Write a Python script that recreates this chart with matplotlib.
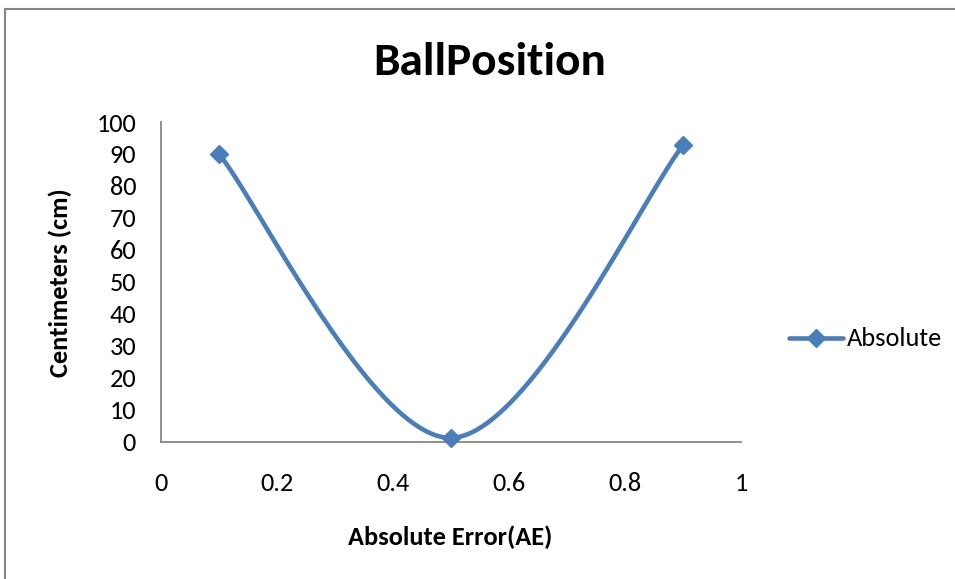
import numpy as np
import matplotlib.pyplot as plt
from matplotlib.patches import Rectangle

plt.rcParams['font.family'] = ['Carlito', 'Lato', 'DejaVu Sans']

# data
ae = [0.1, 0.5, 0.9]
absolute = [90, 1.2, 92.7]
xticks = [0, 0.2, 0.4, 0.6, 0.8, 1]
yticks = list(range(0, 101, 10))

blue = '#4A7EBB'
grey = '#868686'


def smooth(xs, ys, n=60):
    # excel style smoothed line: bezier segments with tangents (p[i+1]-p[i-1])/6
    p = np.column_stack([xs, ys]).astype(float)
    pts = []
    for i in range(len(p) - 1):
        p0 = p[max(i - 1, 0)]
        p1 = p[i]
        p2 = p[i + 1]
        p3 = p[min(i + 2, len(p) - 1)]
        c1 = p1 + (p2 - p0) / 6
        c2 = p2 - (p3 - p1) / 6
        t = np.linspace(0, 1, n)[:, None]
        seg = ((1 - t) ** 3) * p1 + 3 * ((1 - t) ** 2) * t * c1 + 3 * (1 - t) * t ** 2 * c2 + t ** 3 * p2
        pts.append(seg)
    pts = np.vstack(pts)
    return pts[:, 0], pts[:, 1]


fig = plt.figure(figsize=(9.55, 5.79), dpi=100)
ax = fig.add_axes([161 / 955, 1 - 441.7 / 579, 580 / 955, 319.7 / 579])

sx, sy = smooth(ae, absolute)
ax.plot(sx, sy, color=blue, lw=3.3, solid_capstyle='round', zorder=3, clip_on=False)
ax.plot(ae, absolute, ls='none', marker='D', ms=9.5, color=blue, zorder=4, clip_on=False)

ax.set_xlim(0, 1)
ax.set_ylim(0, 100)
ax.set_xticks(xticks)
ax.set_xticklabels(['0', '0.2', '0.4', '0.6', '0.8', '1'])
ax.set_yticks(yticks)
ax.tick_params(length=0, labelsize=19, pad=18)
ax.tick_params(axis='x', pad=22)
for s in ['top', 'right']:
    ax.spines[s].set_visible(False)
for s in ['left', 'bottom']:
    ax.spines[s].set_color(grey)
    ax.spines[s].set_linewidth(1.3)

fig.text(490 / 955, 1 - 62 / 579, 'BallPosition', ha='center', va='center',
         fontsize=34, fontweight='bold')
fig.text(60 / 955, 1 - 283 / 579, 'Centimeters (cm)', ha='center', va='center',
         rotation=90, fontsize=19, fontweight='bold')
fig.text(450 / 955, 1 - 537 / 579, 'Absolute Error(AE)', ha='center', va='center',
         fontsize=19, fontweight='bold')

# legend drawn by hand so the entry sits where excel puts it
fig.lines.append(plt.Line2D([789 / 955, 843 / 955], [1 - 338 / 579] * 2, transform=fig.transFigure,
                            color=blue, lw=3.3, solid_capstyle='round'))
fig.lines.append(plt.Line2D([816 / 955], [1 - 338 / 579], transform=fig.transFigure,
                            color=blue, marker='D', ms=9.5, ls='none'))
fig.text(847 / 955, 1 - 338.5 / 579, 'Absolute', ha='left', va='center', fontsize=19)

fig.patches.append(Rectangle((5 / 955, -0.05), 1.1, 1 - 9 / 579 + 0.05, transform=fig.transFigure,
                             fill=False, edgecolor=grey, lw=1.5, clip_on=False))

fig.savefig('out.png', dpi=100)
